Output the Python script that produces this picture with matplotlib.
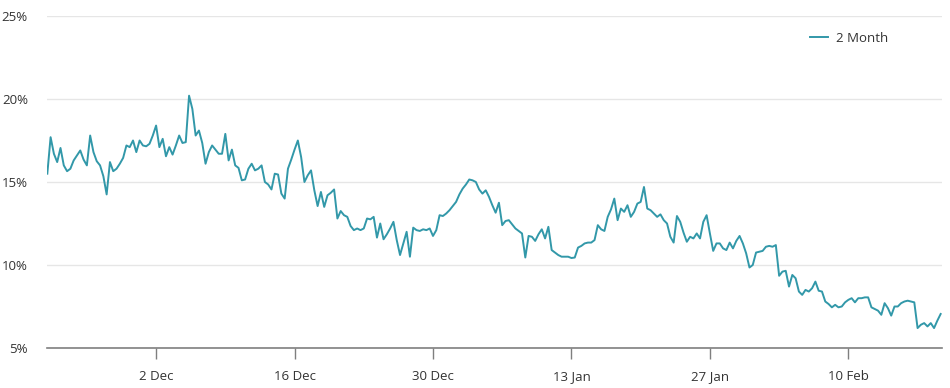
import pandas as pd
import matplotlib
matplotlib.use("Agg")
import matplotlib.pyplot as plt

plt.rcParams['font.family'] = ['Open Sans', 'DejaVu Sans']

# Series: 8-hourly values (%) starting 21 Nov
start_date = '2024-11-21'
step = '8h'
values = [
    15.5, 17.7, 16.7, 16.2, 17.05, 16.0, 15.65, 15.8, 16.3, 16.6,
    16.9, 16.35, 16.0, 17.8, 16.8, 16.25, 16.0, 15.35, 14.25, 16.2,
    15.65, 15.8, 16.1, 16.45, 17.2, 17.1, 17.5, 16.8, 17.5, 17.2,
    17.15, 17.3, 17.8, 18.4, 17.1, 17.6, 16.55, 17.1, 16.65, 17.2,
    17.8, 17.35, 17.4, 20.2, 19.4, 17.8, 18.1, 17.35, 16.1, 16.8,
    17.2, 16.95, 16.7, 16.7, 17.9, 16.3, 16.95, 16.0, 15.85, 15.1,
    15.15, 15.8, 16.1, 15.7, 15.8, 16.0, 15.0, 14.85, 14.55, 15.5,
    15.45, 14.3, 14.0, 15.8, 16.35, 16.95, 17.5, 16.5, 15.0, 15.4,
    15.7, 14.5, 13.55, 14.4, 13.5, 14.2, 14.35, 14.55, 12.8, 13.25,
    13.0, 12.9, 12.35, 12.1, 12.2, 12.1, 12.2, 12.8, 12.75, 12.9,
    11.65, 12.5, 11.55, 11.85, 12.2, 12.6, 11.5, 10.6, 11.3, 12.0,
    10.5, 12.25, 12.1, 12.05, 12.15, 12.1, 12.2, 11.75, 12.1, 13.0,
    12.95, 13.1, 13.3, 13.55, 13.8, 14.25, 14.6, 14.85, 15.15, 15.1,
    15.0, 14.55, 14.3, 14.5, 14.1, 13.6, 13.15, 13.75, 12.4, 12.65,
    12.7, 12.45, 12.2, 12.05, 11.9, 10.45, 11.75, 11.7, 11.45, 11.85,
    12.15, 11.6, 12.3, 10.9, 10.75, 10.6, 10.5, 10.5, 10.5, 10.42,
    10.45, 11.05, 11.15, 11.3, 11.35, 11.35, 11.5, 12.4, 12.15, 12.05,
    12.9, 13.35, 14.0, 12.7, 13.4, 13.2, 13.6, 12.9, 13.2, 13.7,
    13.8, 14.7, 13.4, 13.3, 13.1, 12.9, 13.05, 12.7, 12.5, 11.7,
    11.35, 12.95, 12.6, 11.95, 11.4, 11.7, 11.6, 11.9, 11.6, 12.6,
    13.0, 11.9, 10.85, 11.3, 11.3, 11.0, 10.9, 11.35, 11.0, 11.45,
    11.75, 11.3, 10.7, 9.85, 10.0, 10.75, 10.8, 10.85, 11.1, 11.15,
    11.1, 11.2, 9.35, 9.6, 9.65, 8.7, 9.4, 9.2, 8.4, 8.2,
    8.5, 8.4, 8.6, 9.0, 8.45, 8.4, 7.8, 7.65, 7.45, 7.6,
    7.45, 7.5, 7.75, 7.9, 8.0, 7.75, 8.0, 8.0, 8.05, 8.05,
    7.45, 7.35, 7.25, 7.0, 7.7, 7.4, 6.95, 7.5, 7.5, 7.7,
    7.8, 7.85, 7.8, 7.75, 6.2, 6.4, 6.5, 6.3, 6.5, 6.2,
    6.65, 7.05,
]
series_name = '2 Month'

tick_dates = ['2024-12-02', '2024-12-16', '2024-12-30', '2025-01-13', '2025-01-27', '2025-02-10']
tick_labels = ['2 Dec', '16 Dec', '30 Dec', '13 Jan', '27 Jan', '10 Feb']
y_ticks = [5, 10, 15, 20, 25]
y_labels = ['5%', '10%', '15%', '20%', '25%']

dates = pd.date_range(start_date, periods=len(values), freq=step)

fig = plt.figure(figsize=(9.5, 3.88), dpi=100)
ax = fig.add_axes([0.0498, 0.1031, 0.9421, 0.8557])

line_color = '#3298a9'
ax.plot(dates, values, color=line_color, lw=1.4, label=series_name)

ax.set_ylim(5, 25)
ax.set_xlim(dates[0], dates[-1] + pd.Timedelta(hours=4))
ax.set_yticks(y_ticks)
ax.set_yticklabels(y_labels)
ax.set_xticks(pd.to_datetime(tick_dates))
ax.set_xticklabels(tick_labels)

ax.grid(axis='y', color='#e6e6e6', lw=1)
ax.set_axisbelow(True)
for s in ['top', 'right', 'left']:
    ax.spines[s].set_visible(False)
ax.spines['bottom'].set_color('#7f7f7f')
ax.spines['bottom'].set_linewidth(1.2)

ax.tick_params(axis='y', length=0, pad=14, labelsize=9.5, labelcolor='#333333')
ax.tick_params(axis='x', length=8, width=1, color='#7f7f7f', pad=8,
               labelsize=9.5, labelcolor='#333333')

ax.legend(loc='center left', bbox_to_anchor=(810 / 950, 1 - 38 / 388),
          bbox_transform=fig.transFigure, frameon=False, fontsize=9.5,
          borderpad=0, borderaxespad=0, handlelength=1.4, handletextpad=0.55,
          labelcolor='#333333')

fig.savefig('out.png', dpi=100)
